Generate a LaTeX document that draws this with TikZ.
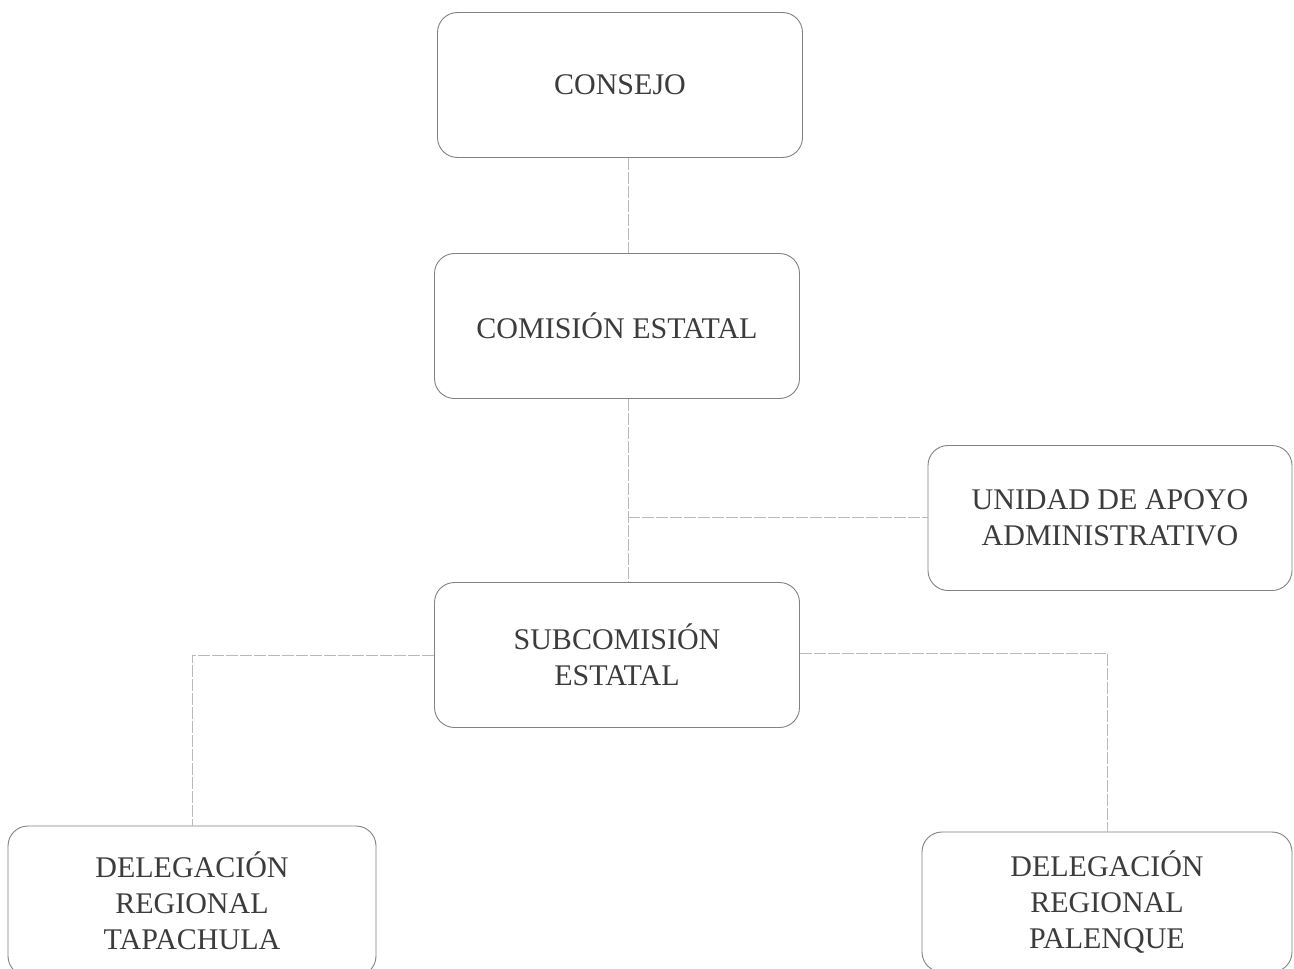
\documentclass[tikz,border=0pt]{standalone}
\usepackage{fontspec}
\setmainfont{Liberation Serif}
\definecolor{boxline}{RGB}{130,130,130}
\definecolor{connline}{RGB}{185,185,185}
\definecolor{txt}{RGB}{60,60,60}
\begin{document}
\begin{tikzpicture}[x=1pt,y=-1pt,
  orgbox/.style={draw=boxline, line width=0.9pt, rounded corners=20pt,
    minimum width=365pt, minimum height=145pt, align=center, text=txt,
    font=\fontsize{30}{36}\selectfont, inner sep=0pt},
  conn/.style={draw=connline, line width=0.8pt, dash pattern=on 12pt off 2pt}]
\clip (0,0) rectangle (1294,969);
\fill[white] (0,0) rectangle (1294,969);
\node[orgbox] (con) at (620,85) {CONSEJO};
\node[orgbox] (com) at (617,326) {COMISIÓN ESTATAL};
\node[orgbox, minimum width=364pt] (uni) at (1110,518) {UNIDAD DE APOYO\\ADMINISTRATIVO};
\node[orgbox] (sub) at (617,655) {SUBCOMISIÓN\\ESTATAL};
\node[orgbox, minimum width=368pt, minimum height=150pt] (tap) at (192,901) {DELEGACIÓN\\REGIONAL\\TAPACHULA};
\node[orgbox, minimum width=370pt, minimum height=140pt] (pal) at (1107,902) {DELEGACIÓN\\REGIONAL\\PALENQUE};
\coordinate (j) at (628,517);
\draw[conn] ([xshift=8pt]con.south) -- ([xshift=11pt]com.north);
\draw[conn] ([xshift=11pt]com.south) -- ([xshift=11pt]sub.north);
\draw[conn] (j) -- (uni.west |- j);
\draw[conn] (sub.west) -| (tap.north);
\draw[conn] ([yshift=2pt]sub.east) -| (pal.north);
\end{tikzpicture}
\end{document}
